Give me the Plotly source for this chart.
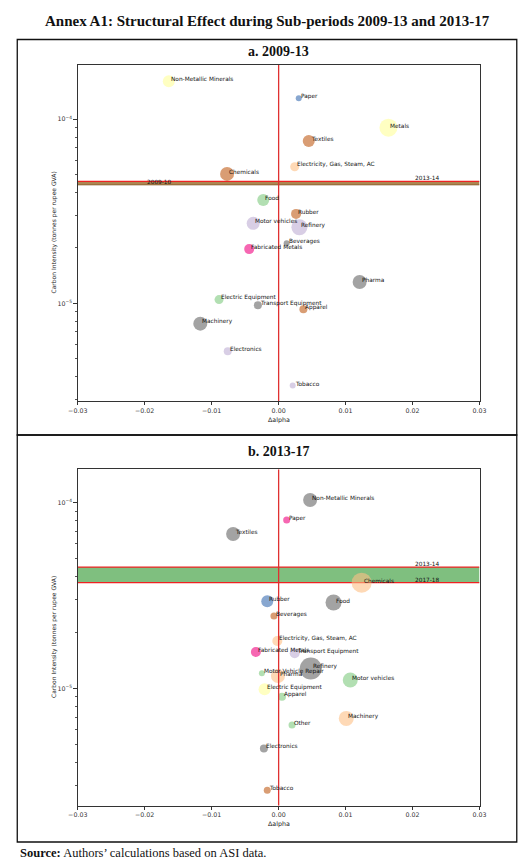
import numpy as np
import plotly.graph_objects as go

# Panel a: 2009-13
sectors_a = ["Non-Metallic Minerals", "Paper", "Metals", "Textiles",
             "Electricity, Gas, Steam, AC", "Chemicals", "Food", "Rubber",
             "Motor vehicles", "Refinery", "Beverages", "Fabricated Metals",
             "Pharma", "Electric Equipment", "Transport Equipment", "Apparel",
             "Machinery", "Electronics", "Tobacco"]
dalpha_a = [-0.0164, 0.0030, 0.0164, 0.0045, 0.0024, -0.0077, -0.0023, 0.0026,
            -0.0038, 0.0031, 0.0012, -0.0044, 0.0121, -0.0089, -0.0031, 0.0037,
            -0.0117, -0.0076, 0.0021]
intensity_a = [1.61e-4, 1.30e-4, 9.0e-5, 7.62e-5, 5.52e-5, 5.05e-5, 3.64e-5,
               3.06e-5, 2.72e-5, 2.59e-5, 2.12e-5, 1.97e-5, 1.305e-5, 1.047e-5,
               9.76e-6, 9.28e-6, 7.75e-6, 5.48e-6, 3.57e-6]
weight_a = [12, 6, 18, 12, 9, 14, 12, 10, 13, 16, 6, 10, 14, 9, 8, 8, 14, 8, 6]
colour_a = ["yellow", "blue", "yellow", "brown", "peach", "brown", "green", "brown",
            "lavender", "lavender", "gray", "magenta", "gray", "green", "gray",
            "brown", "gray", "lavender", "lavender"]

# Panel b: 2013-17
sectors_b = ["Non-Metallic Minerals", "Paper", "Textiles", "Chemicals", "Rubber",
             "Food", "Beverages", "Electricity, Gas, Steam, AC", "Fabricated Metals",
             "Transport Equipment", "Refinery", "Motor Vehicle Repair", "Pharma",
             "Motor vehicles", "Electric Equipment", "Apparel", "Machinery",
             "Other", "Electronics", "Tobacco"]
dalpha_b = [0.0047, 0.0012, -0.0068, 0.0124, -0.0017, 0.0082, -0.0007, -0.0002,
            -0.0034, 0.0024, 0.0048, -0.0025, -0.0001, 0.0107, -0.0021, 0.0005,
            0.0101, 0.0020, -0.0022, -0.0017]
intensity_b = [1.035e-4, 8.07e-5, 6.78e-5, 3.71e-5, 2.95e-5, 2.90e-5, 2.45e-5,
               1.80e-5, 1.57e-5, 1.545e-5, 1.28e-5, 1.205e-5, 1.164e-5, 1.11e-5,
               9.88e-6, 9.02e-6, 6.89e-6, 6.34e-6, 4.75e-6, 2.83e-6]
weight_b = [14, 7, 14, 20, 12, 16, 7, 10, 10, 10, 22, 6, 14, 15, 12, 8, 15, 7, 8, 7]
colour_b = ["gray", "magenta", "gray", "peach", "blue", "gray", "brown", "peach",
            "magenta", "lavender", "gray", "green", "peach", "green", "yellow",
            "green", "peach", "green", "gray", "brown"]

# reference years (carbon intensity of the whole sector)
band_a = {"2009-10": 4.40e-5, "2013-14": 4.60e-5}
band_b = {"2013-14": 4.50e-5, "2017-18": 3.71e-5}

x_ticks = [-0.03, -0.02, -0.01, 0.0, 0.01, 0.02, 0.03]
x_ticktext = ["\u22120.03", "\u22120.02", "\u22120.01", "0.00", "0.01", "0.02", "0.03"]

accent = {"green": "#7fc97f", "lavender": "#beaed4", "peach": "#fdc086",
          "yellow": "#ffff99", "blue": "#386cb0", "magenta": "#f0027f",
          "brown": "#bf5b17", "gray": "#666666"}

W, H = 532, 867
lab_font = dict(family="DejaVu Sans", size=5.8, color="#111")
tick_font = dict(family="DejaVu Sans", size=6.3, color="#333")

fig = go.Figure()
annotations = []


def add_panel(xa, ya, names, dx, ci, wt, cols, band, band_fill, green, yrange):
    lo, hi = 10 ** yrange[0], 10 ** yrange[1]
    top, bot = max(band.values()), min(band.values())
    # band between the two reference years
    fig.add_trace(go.Scatter(x=[-0.03, 0.03, 0.03, -0.03, -0.03], y=[bot, bot, top, top, bot],
                             fill="toself", fillcolor=band_fill, line=dict(width=0),
                             mode="lines", xaxis=xa, yaxis=ya, hoverinfo="skip"))
    fig.add_trace(go.Scatter(x=[-0.03, 0.03], y=[top, top], mode="lines",
                             line=dict(color="#ee2222", width=1.3), xaxis=xa, yaxis=ya))
    fig.add_trace(go.Scatter(x=[-0.03, 0.03], y=[bot, bot], mode="lines",
                             line=dict(color="#ee2222" if green else "#8a5a2a",
                                       width=1.3 if green else 0.8),
                             xaxis=xa, yaxis=ya))
    fig.add_trace(go.Scatter(x=dx, y=ci, mode="markers",
                             marker=dict(size=wt, color=[accent[c] for c in cols], opacity=0.6,
                                         line=dict(width=0)),
                             text=names, xaxis=xa, yaxis=ya))
    fig.add_trace(go.Scatter(x=[0, 0], y=[lo, hi], mode="lines",
                             line=dict(color="#e03030", width=1.3), xaxis=xa, yaxis=ya))
    for n, xv, yv in zip(names, dx, ci):
        annotations.append(dict(x=xv, y=np.log10(yv), xref=xa, yref=ya, text=n,
                                showarrow=False, xanchor="left", yanchor="middle",
                                yshift=2, font=lab_font))
    for k, yv in band.items():
        xpos = -0.0199 if k == "2009-10" else 0.0201
        annotations.append(dict(x=xpos, y=np.log10(yv), xref=xa, yref=ya, text=k,
                                showarrow=False, xanchor="left", yanchor="middle",
                                yshift=3, font=lab_font))


yr_a = [-5.531, -3.705]
yr_b = [-5.632, -3.82]
add_panel("x", "y", sectors_a, dalpha_a, intensity_a, weight_a, colour_a, band_a,
          "rgba(168,128,72,0.95)", False, yr_a)
add_panel("x2", "y2", sectors_b, dalpha_b, intensity_b, weight_b, colour_b, band_b,
          "rgba(0,128,0,0.5)", True, yr_b)

minor_vals = [m * 10 ** e for e in (-6, -5, -4) for m in range(2, 10)]

xdom = [70 / W, 485 / W]
common_x = dict(range=[-0.03, 0.03], tickvals=x_ticks, ticktext=x_ticktext,
                showgrid=False, zeroline=False, showline=True, mirror=True,
                linecolor="#333", linewidth=0.9, ticks="outside", ticklen=3,
                tickcolor="#333", tickfont=tick_font, domain=xdom)
common_y = dict(type="log", tickvals=[1e-5, 1e-4],
                ticktext=["10<sup>\u22125</sup>", "10<sup>\u22124</sup>"],
                showgrid=False, zeroline=False, showline=True, mirror=True,
                linecolor="#333", linewidth=0.9, ticks="outside", ticklen=3.5,
                tickcolor="#333", tickfont=tick_font,
                minor=dict(tickvals=minor_vals, ticks="outside", ticklen=2, tickcolor="#555"))

fig.update_layout(
    width=W, height=H, margin=dict(l=0, r=0, t=0, b=0),
    paper_bgcolor="white", plot_bgcolor="white", showlegend=False,
    xaxis=dict(common_x, anchor="y"),
    yaxis=dict(common_y, range=yr_a, domain=[1 - 401 / H, 1 - 65 / H], anchor="x"),
    xaxis2=dict(common_x, anchor="y2"),
    yaxis2=dict(common_y, range=yr_b, domain=[1 - 805.7 / H, 1 - 469.3 / H], anchor="x2"),
)

serif = "Liberation Serif"
paper_txt = dict(xref="paper", yref="paper", showarrow=False, xanchor="center", yanchor="middle")
annotations += [
    dict(paper_txt, x=0.5, y=1 - 21 / H,
         text="<b>Annex A1: Structural Effect during Sub-periods 2009-13 and 2013-17</b>",
         font=dict(family=serif, size=15, color="#111")),
    dict(paper_txt, x=277.5 / W, y=1 - 52 / H,
         text="<b>a. 2009-13</b>", font=dict(family=serif, size=14, color="#111")),
    dict(paper_txt, x=277.5 / W, y=1 - 451 / H,
         text="<b>b. 2013-17</b>", font=dict(family=serif, size=14, color="#111")),
    dict(paper_txt, x=8 / W, y=1 - 853 / H, xanchor="left",
         text="<b>Source:</b> Authors\u2019 calculations based on ASI data.",
         font=dict(family=serif, size=12.5, color="#111")),
]
for ytitle, xtitle in ((233, 419.5), (637.5, 823.5)):
    annotations.append(dict(paper_txt, x=277.5 / W, y=1 - xtitle / H, text="\u0394alpha",
                            font=dict(family="DejaVu Sans", size=6.3, color="#222")))
    annotations.append(dict(paper_txt, x=45 / W, y=1 - ytitle / H, textangle=-90,
                            text="Carbon Intensity (tonnes per rupee GVA)",
                            font=dict(family="DejaVu Sans", size=6, color="#222")))

fig.update_layout(annotations=annotations)

# outer boxes of the two panels
for y0, y1 in ((39.5, 435), (435, 842)):
    fig.add_shape(type="rect", xref="paper", yref="paper", x0=7.5 / W, x1=523.5 / W,
                  y0=1 - y1 / H, y1=1 - y0 / H, line=dict(color="#111", width=1.3))

fig.write_html("out.html", config={"displayModeBar": False},
               post_script="document.body.style.margin='0';document.body.style.overflow='hidden';")
